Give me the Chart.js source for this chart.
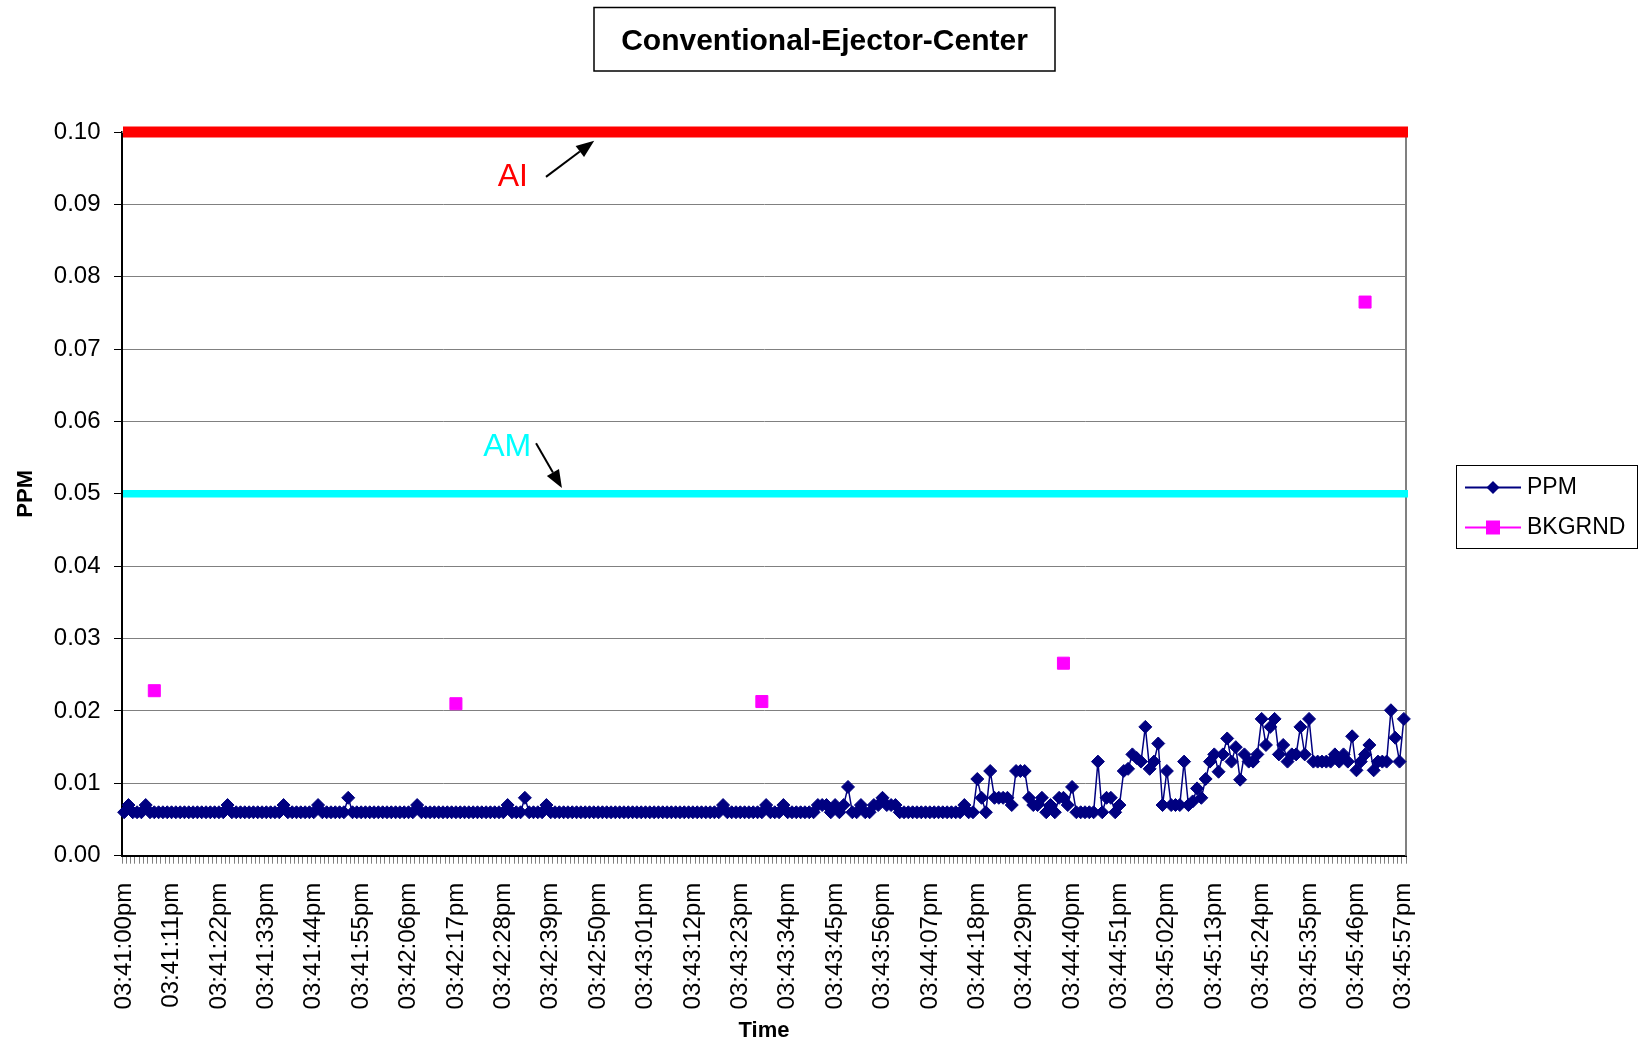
<!DOCTYPE html>
<html>
<head>
<meta charset="utf-8">
<title>Conventional-Ejector-Center</title>
<script src="https://cdn.jsdelivr.net/npm/chart.js@4.4.0/dist/chart.umd.min.js"></script>
<style>
  html, body { margin: 0; padding: 0; background: #fff; }
</style>
</head>
<body>
<canvas id="chart" width="1642" height="1047"></canvas>
<script>
const chartTitle = 'Conventional-Ejector-Center';

// x tick labels, one every 11 samples
const tickLabels = [
  '03:41:00pm', '03:41:11pm', '03:41:22pm', '03:41:33pm', '03:41:44pm', '03:41:55pm',
  '03:42:06pm', '03:42:17pm', '03:42:28pm', '03:42:39pm', '03:42:50pm', '03:43:01pm',
  '03:43:12pm', '03:43:23pm', '03:43:34pm', '03:43:45pm', '03:43:56pm', '03:44:07pm',
  '03:44:18pm', '03:44:29pm', '03:44:40pm', '03:44:51pm', '03:45:02pm', '03:45:13pm',
  '03:45:24pm', '03:45:35pm', '03:45:46pm', '03:45:57pm'
];

// PPM readings, one per second from 03:41:00pm
const ppm = [
  0.006, 0.007, 0.006, 0.006, 0.006, 0.007, 0.006, 0.006, 0.006, 0.006, 0.006, 0.006, 0.006, 0.006, 0.006, 0.006, 0.006, 0.006, 0.006, 0.006,
  0.006, 0.006, 0.006, 0.006, 0.007, 0.006, 0.006, 0.006, 0.006, 0.006, 0.006, 0.006, 0.006, 0.006, 0.006, 0.006, 0.006, 0.007, 0.006, 0.006,
  0.006, 0.006, 0.006, 0.006, 0.006, 0.007, 0.006, 0.006, 0.006, 0.006, 0.006, 0.006, 0.008, 0.006, 0.006, 0.006, 0.006, 0.006, 0.006, 0.006,
  0.006, 0.006, 0.006, 0.006, 0.006, 0.006, 0.006, 0.006, 0.007, 0.006, 0.006, 0.006, 0.006, 0.006, 0.006, 0.006, 0.006, 0.006, 0.006, 0.006,
  0.006, 0.006, 0.006, 0.006, 0.006, 0.006, 0.006, 0.006, 0.006, 0.007, 0.006, 0.006, 0.006, 0.008, 0.006, 0.006, 0.006, 0.006, 0.007, 0.006,
  0.006, 0.006, 0.006, 0.006, 0.006, 0.006, 0.006, 0.006, 0.006, 0.006, 0.006, 0.006, 0.006, 0.006, 0.006, 0.006, 0.006, 0.006, 0.006, 0.006,
  0.006, 0.006, 0.006, 0.006, 0.006, 0.006, 0.006, 0.006, 0.006, 0.006, 0.006, 0.006, 0.006, 0.006, 0.006, 0.006, 0.006, 0.006, 0.006, 0.007,
  0.006, 0.006, 0.006, 0.006, 0.006, 0.006, 0.006, 0.006, 0.006, 0.007, 0.006, 0.006, 0.006, 0.007, 0.006, 0.006, 0.006, 0.006, 0.006, 0.006,
  0.006, 0.007, 0.007, 0.007, 0.006, 0.007, 0.006, 0.007, 0.0095, 0.006, 0.006, 0.007, 0.006, 0.006, 0.007, 0.007, 0.008, 0.007, 0.007, 0.007,
  0.006, 0.006, 0.006, 0.006, 0.006, 0.006, 0.006, 0.006, 0.006, 0.006, 0.006, 0.006, 0.006, 0.006, 0.006, 0.007, 0.006, 0.006, 0.0106, 0.008,
  0.006, 0.0117, 0.008, 0.008, 0.008, 0.008, 0.007, 0.0117, 0.0117, 0.0117, 0.008, 0.007, 0.007, 0.008, 0.006, 0.007, 0.006, 0.008, 0.008, 0.007,
  0.0095, 0.006, 0.006, 0.006, 0.006, 0.006, 0.013, 0.006, 0.008, 0.008, 0.006, 0.007, 0.0117, 0.012, 0.014, 0.0135, 0.013, 0.0178, 0.012, 0.013,
  0.0155, 0.007, 0.0117, 0.007, 0.007, 0.007, 0.013, 0.007, 0.0075, 0.0093, 0.008, 0.0106, 0.013, 0.014, 0.0116, 0.014, 0.0162, 0.013, 0.015, 0.0105,
  0.014, 0.013, 0.013, 0.014, 0.0189, 0.0153, 0.0178, 0.0189, 0.014, 0.0153, 0.013, 0.014, 0.014, 0.0178, 0.014, 0.0189, 0.013, 0.013, 0.013, 0.013,
  0.013, 0.014, 0.013, 0.014, 0.013, 0.0165, 0.0118, 0.013, 0.014, 0.0153, 0.0118, 0.013, 0.013, 0.013, 0.0201, 0.0163, 0.013, 0.0189
];

// background samples: sample index and value
const bkgrndIndex = [7, 77, 148, 218, 288];
const bkgrndValues = [0.0228, 0.021, 0.0213, 0.0266, 0.0765];

// action limits
const aiLimit = 0.10;
const amLimit = 0.05;

// call-outs in data units (sample index, ppm)
const callouts = [
  { text: 'AI', color: '#FF0000', at: [90.2, 0.0937], from: [97.9, 0.0938], to: [109.1, 0.0988] },
  { text: 'AM', color: '#00FFFF', at: [88.9, 0.0564], from: [95.6, 0.0570], to: [101.6, 0.0508] }
];

// one category per second
const categories = ppm.map((_, i) => {
  const t = 41 * 60 + i;
  const mm = String(Math.floor(t / 60)).padStart(2, '0');
  const ss = String(t % 60).padStart(2, '0');
  return '03:' + mm + ':' + ss + 'pm';
});

const bkgrnd = categories.map(() => null);
bkgrndIndex.forEach((idx, k) => { bkgrnd[idx] = bkgrndValues[k]; });

const FONT = '"Liberation Sans", Arial, sans-serif';

function arrow(ctx, x1, y1, x2, y2) {
  const ang = Math.atan2(y2 - y1, x2 - x1);
  const len = 18, half = 7;
  const bx = x2 - Math.cos(ang) * len, by = y2 - Math.sin(ang) * len;
  ctx.beginPath();
  ctx.moveTo(x1, y1);
  ctx.lineTo(bx, by);
  ctx.stroke();
  ctx.beginPath();
  ctx.moveTo(x2, y2);
  ctx.lineTo(bx + Math.sin(ang) * half, by - Math.cos(ang) * half);
  ctx.lineTo(bx - Math.sin(ang) * half, by + Math.cos(ang) * half);
  ctx.closePath();
  ctx.fill();
}

const plotFrame = {
  id: 'plotFrame',
  beforeDatasetsDraw(chart) {
    const { ctx, chartArea: a } = chart;
    ctx.save();
    ctx.strokeStyle = '#808080';
    ctx.lineWidth = 2;
    ctx.beginPath();
    ctx.moveTo(a.left, a.top);
    ctx.lineTo(a.right, a.top);
    ctx.lineTo(a.right, a.bottom);
    ctx.stroke();
    ctx.restore();
  }
};

const limits = {
  id: 'limits',
  afterDatasetsDraw(chart) {
    const { ctx, chartArea: a, scales } = chart;
    ctx.save();
    [[aiLimit, '#FF0000', 11], [amLimit, '#00FFFF', 7.5]].forEach(([v, c, w]) => {
      const y = scales.y.getPixelForValue(v);
      ctx.strokeStyle = c;
      ctx.lineWidth = w;
      ctx.beginPath();
      ctx.moveTo(a.left + 1, y);
      ctx.lineTo(a.right + 2, y);
      ctx.stroke();
    });
    callouts.forEach(c => {
      const px = p => [scales.x.getPixelForValue(p[0]), scales.y.getPixelForValue(p[1])];
      const [tx, ty] = px(c.at);
      ctx.fillStyle = c.color;
      ctx.font = '32px ' + FONT;
      ctx.textAlign = 'center';
      ctx.textBaseline = 'middle';
      ctx.fillText(c.text, tx, ty);
      const [x1, y1] = px(c.from);
      const [x2, y2] = px(c.to);
      ctx.strokeStyle = '#000';
      ctx.fillStyle = '#000';
      ctx.lineWidth = 2;
      arrow(ctx, x1, y1, x2, y2);
    });
    ctx.restore();
  }
};

const titleBox = {
  id: 'titleBox',
  afterDraw(chart) {
    const ctx = chart.ctx;
    ctx.save();
    ctx.strokeStyle = '#000';
    ctx.lineWidth = 1.5;
    ctx.strokeRect(594, 7.5, 461, 63.5);
    ctx.fillStyle = '#000';
    ctx.font = 'bold 30px ' + FONT;
    ctx.textAlign = 'center';
    ctx.textBaseline = 'middle';
    ctx.fillText(chartTitle, 824.5, 42);
    ctx.restore();
  }
};

const legendBox = {
  id: 'legendBox',
  afterDraw(chart) {
    const ctx = chart.ctx;
    ctx.save();
    ctx.strokeStyle = '#000';
    ctx.lineWidth = 1;
    ctx.strokeRect(1456.5, 465.5, 181, 83);
    chart.data.datasets.forEach((ds, i) => {
      const y = 487.5 + i * 40;
      ctx.strokeStyle = ds.borderColor;
      ctx.lineWidth = 2;
      ctx.beginPath();
      ctx.moveTo(1465, y);
      ctx.lineTo(1521, y);
      ctx.stroke();
      ctx.fillStyle = ds.backgroundColor;
      ctx.beginPath();
      if (ds.pointStyle === 'rectRot') {
        ctx.moveTo(1493 - 6.5, y);
        ctx.lineTo(1493, y - 6.5);
        ctx.lineTo(1493 + 6.5, y);
        ctx.lineTo(1493, y + 6.5);
        ctx.closePath();
      } else {
        ctx.rect(1493 - 7, y - 7, 14, 14);
      }
      ctx.fill();
      ctx.fillStyle = '#000';
      ctx.font = '23px ' + FONT;
      ctx.textAlign = 'left';
      ctx.textBaseline = 'middle';
      ctx.fillText(ds.label, 1527, y);
    });
    ctx.restore();
  }
};

new Chart(document.getElementById('chart'), {
  type: 'line',
  data: {
    labels: categories,
    datasets: [
      {
        label: 'PPM',
        data: ppm,
        borderColor: '#000080',
        backgroundColor: '#000080',
        borderWidth: 1.5,
        pointStyle: 'rectRot',
        pointRadius: 6.5,
        pointBorderWidth: 1,
        tension: 0
      },
      {
        label: 'BKGRND',
        data: bkgrnd,
        borderColor: '#FF00FF',
        backgroundColor: '#FF00FF',
        borderWidth: 1.5,
        pointStyle: 'rect',
        pointRadius: 8.5,
        pointBorderWidth: 1,
        spanGaps: false
      }
    ]
  },
  options: {
    responsive: false,
    animation: false,
    devicePixelRatio: 1,
    layout: { padding: { top: 132, right: 236, left: 0, bottom: 0 } },
    plugins: {
      legend: { display: false },
      tooltip: { enabled: false },
      title: { display: false }
    },
    scales: {
      x: {
        type: 'category',
        offset: true,
        afterFit: s => { s.height = 191.3; },
        grid: { offset: true, drawOnChartArea: false, drawTicks: true, tickLength: 8, color: '#808080', lineWidth: 1 },
        border: { display: true, color: '#000', width: 2 },
        ticks: {
          autoSkip: false,
          minRotation: 90,
          maxRotation: 90,
          padding: 19,
          color: '#000',
          font: { family: FONT, size: 24 },
          callback: (v, i) => (i % 11 === 0 ? tickLabels[i / 11] : '')
        },
        title: { display: true, text: 'Time', color: '#000', font: { family: FONT, size: 22, weight: 'bold' }, padding: { top: 0, bottom: 3 } }
      },
      y: {
        min: 0,
        max: 0.1,
        afterFit: s => { s.width = 122; },
        grid: { color: '#808080', lineWidth: 1, tickLength: 8, tickColor: '#000' },
        border: { display: true, color: '#000', width: 2 },
        ticks: {
          stepSize: 0.01,
          padding: 13.5,
          color: '#000',
          font: { family: FONT, size: 24 },
          callback: v => v.toFixed(2)
        },
        title: { display: true, text: 'PPM', color: '#000', font: { family: FONT, size: 22, weight: 'bold' }, padding: { top: 13, bottom: 0 } }
      }
    }
  },
  plugins: [plotFrame, limits, titleBox, legendBox]
});
</script>
</body>
</html>
